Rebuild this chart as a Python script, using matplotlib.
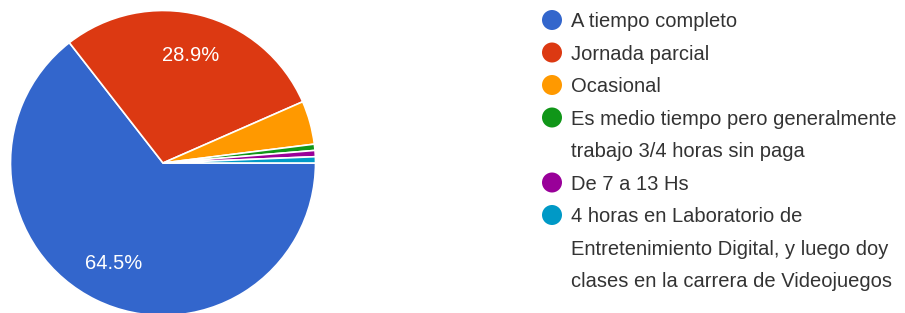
import matplotlib
matplotlib.use("Agg")
import matplotlib.pyplot as plt
from matplotlib.patches import Circle

labels = [
    "A tiempo completo",
    "Jornada parcial",
    "Ocasional",
    "Es medio tiempo pero generalmente\ntrabajo 3/4 horas sin paga",
    "De 7 a 13 Hs",
    "4 horas en Laboratorio de\nEntretenimiento Digital, y luego doy\nclases en la carrera de Videojuegos",
]
counts = [98, 44, 7, 1, 1, 1]
colors = ["#3366cc", "#dc3912", "#ff9900", "#109618", "#990099", "#0099c6"]

W, H = 905, 313
fig = plt.figure(figsize=(W / 100, H / 100), dpi=100)
ax = fig.add_axes([0, 0, 1, 1])

FONT = "Liberation Sans"

def pct(p):
    return f"{p:.1f}%" if p > 10 else ""

wedges, texts, autotexts = ax.pie(
    counts, colors=colors, startangle=0, counterclock=False,
    center=(163, H - 163), radius=152.5, frame=True,
    autopct=pct, pctdistance=0.73,
    wedgeprops=dict(edgecolor="white", linewidth=1.2),
    textprops=dict(color="white", fontsize=14.5, family=FONT),
)
ax.set_xlim(0, W)
ax.set_ylim(0, H)
ax.set_aspect("equal")
ax.axis("off")

# legend
y = 20
step = 32.5
for lab, col in zip(labels, colors):
    ax.add_patch(Circle((552, H - y), 10, color=col, lw=0))
    for i, line in enumerate(lab.split("\n")):
        ax.text(571, H - (y + i * step) - 7.2, line, fontsize=14.5, family=FONT,
                color="#333333", va="baseline", ha="left")
    y += step * len(lab.split("\n"))

fig.savefig("out.png", dpi=100)
